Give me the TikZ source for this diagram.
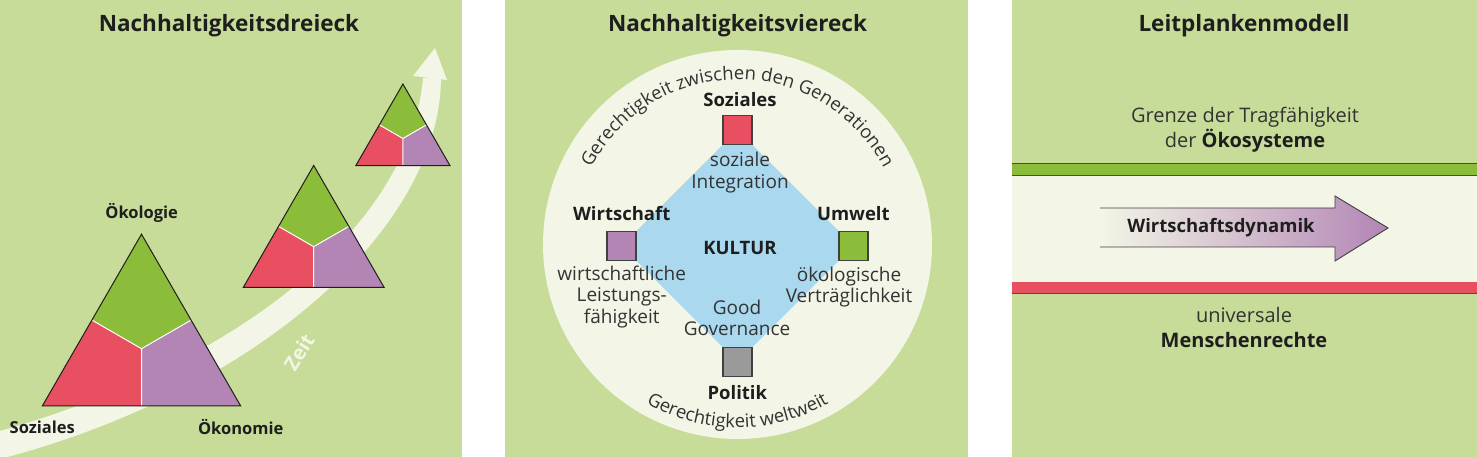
\documentclass[tikz,border=0pt]{standalone}
\usepackage{fontspec}
\setmainfont{Open Sans}
\usetikzlibrary{decorations.text}
\definecolor{bggreen}{HTML}{C6DC98}
\definecolor{pale}{HTML}{F3F6E6}
\definecolor{oekogreen}{HTML}{8BBC3A}
\definecolor{sozred}{HTML}{E84F60}
\definecolor{oekopurple}{HTML}{B385B5}
\definecolor{kulturblue}{HTML}{A9D8EF}
\definecolor{polgray}{HTML}{9A9A9A}
\definecolor{ink}{HTML}{1E1E1E}
\definecolor{grautext}{HTML}{333333}

\begin{document}
\begin{tikzpicture}[x=1pt,y=1pt]
\tikzstyle{title}=[font=\fontsize{22.5}{26}\selectfont\bfseries, text=ink]
\tikzstyle{lbl}=[font=\fontsize{16.5}{20}\selectfont\bfseries, text=ink]
\tikzstyle{note}=[font=\fontsize{19}{21.5}\selectfont, text=grautext, align=center]
\tikzstyle{kasten}=[draw=ink!85, line width=1.1pt, minimum size=29pt, inner sep=0pt]
\useasboundingbox (0,0) rectangle (1477,457);
\fill[white] (0,0) rectangle (1477,457);
\fill[bggreen] (0,0) rectangle (462,457);
\fill[bggreen] (505,0) rectangle (968,457);
\fill[bggreen] (1012,0) rectangle (1477,457);

% Dreieck
\node[title] (t1) at (229,431) {Nachhaltigkeitsdreieck};
\fill[pale] (0,-2) .. controls (256,65) and (440,228) .. (441,379) -- (423,379) .. controls (410,233) and (244,95) .. (0,26) -- cycle;
\fill[pale] (413,381) -- (435,409) -- (447,377) -- cycle;
\node[font=\fontsize{20}{22}\selectfont\bfseries, text=pale, rotate=58] (zeit) at (299,105) {Zeit};
\foreach \cx/\by/\s in {141.5/51/198.4, 313.7/169.7/140.7, 402.9/291.3/94.3}{
  \coordinate (A) at (\cx,{\by+0.866*\s});
  \coordinate (L) at ({\cx-\s/2},\by);
  \coordinate (R) at ({\cx+\s/2},\by);
  \coordinate (G) at (\cx,{\by+0.2887*\s});
  \coordinate (mL) at ({\cx-\s/4},{\by+0.433*\s});
  \coordinate (mR) at ({\cx+\s/4},{\by+0.433*\s});
  \coordinate (mB) at (\cx,\by);
  \fill[oekogreen] (A) -- (mR) -- (G) -- (mL) -- cycle;
  \fill[sozred] (L) -- (mL) -- (G) -- (mB) -- cycle;
  \fill[oekopurple] (R) -- (mB) -- (G) -- (mR) -- cycle;
  \draw[white, line width=1pt] (mL) -- (G) -- (mR) (G) -- (mB);
  \draw[ink, line width=1pt] (A) -- (L) -- (R) -- cycle;
}
\node[lbl] (oekologie) at (141.7,244) {Ökologie};
\node[lbl] (soziales) at (42.3,30) {Soziales};
\node[lbl] (oekonomie) at (240.7,30) {Ökonomie};

% Viereck
\node[title] (t2) at (737.5,431) {Nachhaltigkeitsviereck};
\node[circle, fill=pale, minimum size=389pt, inner sep=0pt] (kreis) at (737.5,212.5) {};
\coordinate (ks) at (737.5,327);
\coordinate (ku) at (853.5,211);
\coordinate (kp) at (737.5,95);
\coordinate (kw) at (621.5,211);
\fill[kulturblue] (ks) -- (ku) -- (kp) -- (kw) -- cycle;
\node[kasten, fill=sozred] (soz) at (ks) {};
\node[kasten, fill=oekogreen] (umw) at (ku) {};
\node[kasten, fill=polgray] (pol) at (kp) {};
\node[kasten, fill=oekopurple] (wir) at (kw) {};
\tikzstyle{lbl}=[font=\fontsize{18.5}{20}\selectfont\bfseries, text=ink]
\node[lbl] (sozlbl) at (740,357.7) {Soziales};
\node[lbl] (wirlbl) at (621.7,243) {Wirtschaft};
\node[lbl] (umwlbl) at (853.3,243) {Umwelt};
\node[lbl] (pollbl) at (737.3,64) {Politik};
\node[lbl] (kultur) at (740,209) {KULTUR};
\node[note] (sozial) at (740,284.5) {soziale\\Integration};
\node[note] (leistung) at (621.7,160) {wirtschaftliche\\Leistungs-\\fähigkeit};
\node[note] (vertrag) at (849,170) {ökologische\\Verträglichkeit};
\node[note] (govern) at (737,139) {Good\\Governance};
\path[decorate, decoration={text along path, text align=center, text color=grautext,
  text={|\fontsize{18.5}{20}\selectfont|Gerechtigkeit zwischen den Generationen}}]
  (kreis.center) ++(180:165pt) arc[start angle=180, end angle=0, radius=165pt];
\path[decorate, decoration={text along path, text align=center, text color=grautext,
  text={|\fontsize{18.5}{20}\selectfont|Gerechtigkeit weltweit}}]
  (kreis.center) ++(180:183pt) arc[start angle=180, end angle=360, radius=183pt];

% Leitplanken
\tikzstyle{lbl}=[font=\fontsize{18.5}{20}\selectfont\bfseries, text=ink]
\node[title] (t3) at (1244,431) {Leitplankenmodell};
\node[note, font=\fontsize{20}{25}\selectfont] (grenze) at (1245,327.5) {Grenze der Tragfähigkeit\\der \textbf{\color{ink}Ökosysteme}};
\fill[pale] (1012,175) rectangle (1477,282);
\fill[oekogreen] (1012,282) rectangle (1477,294);
\draw[ink!80, line width=0.8pt] (1012,282) -- (1477,282) (1012,294) -- (1477,294);
\fill[sozred] (1012,164) rectangle (1477,175);
\draw[ink!80, line width=0.8pt] (1012,164) -- (1477,164);
\shade[left color=pale, middle color=oekopurple!60!pale, right color=oekopurple]
  (1100,249) -- (1335,249) -- (1335,261) -- (1388,229) -- (1335,196) -- (1335,210) -- (1100,210) -- cycle;
\draw[ink!85, line width=0.9pt] (1100,249) -- (1335,249) -- (1335,261) -- (1388,229) -- (1335,196) -- (1335,210) -- (1100,210);
\node[lbl] (dyn) at (1221,229) {Wirtschaftsdynamik};
\node[note, font=\fontsize{20}{25}\selectfont] (rechte) at (1244,129.5) {universale\\\textbf{\color{ink}Menschenrechte}};
\end{tikzpicture}
\end{document}
